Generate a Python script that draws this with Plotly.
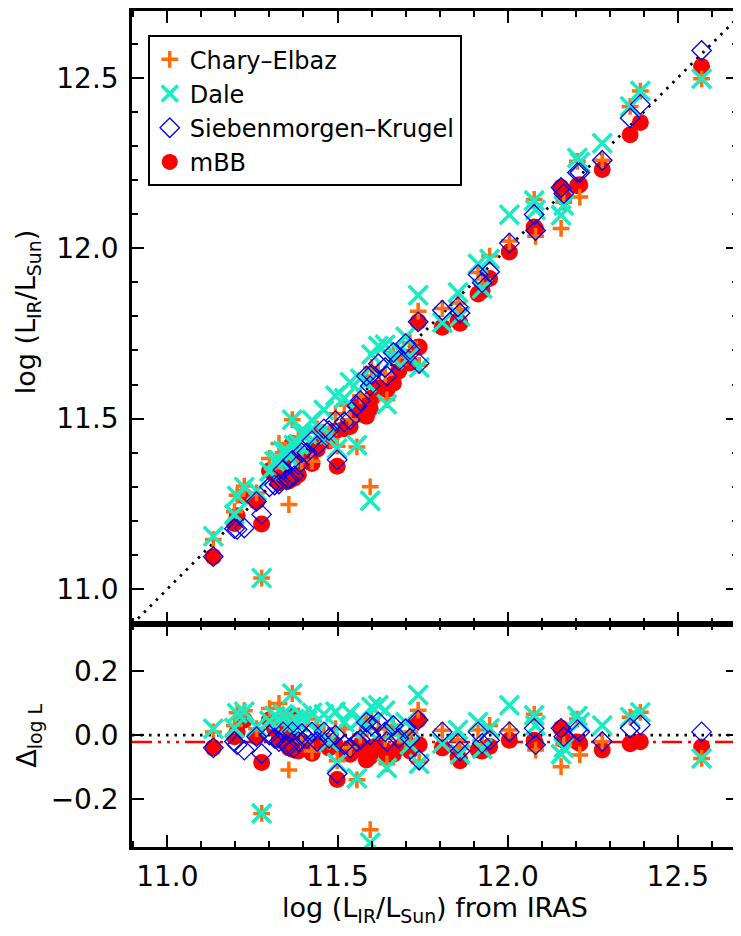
import plotly.graph_objects as go

# IRAS log L_IR and model residuals (model - IRAS) for each galaxy
x_iras = [11.135, 11.197, 11.205, 11.226, 11.262, 11.277, 11.300, 11.315, 11.328, 11.340,
          11.350, 11.357, 11.367, 11.372, 11.385, 11.395, 11.410, 11.425, 11.440, 11.460,
          11.475, 11.494, 11.499, 11.520, 11.537, 11.557, 11.567, 11.585, 11.596, 11.600,
          11.620, 11.640, 11.645, 11.664, 11.680, 11.700, 11.713, 11.737, 11.740, 11.808,
          11.854, 11.860, 11.913, 11.925, 11.947, 12.005, 12.078, 12.082, 12.157, 12.165,
          12.205, 12.212, 12.278, 12.360, 12.390, 12.570]
d_ce = [0.010, 0.030, 0.070, 0.076, 0.020, -0.245, 0.083, 0.040, 0.099, 0.060,
        0.050, -0.109, 0.130, 0.030, 0.060, -0.020, 0.050, -0.050, 0.030, 0.000,
        -0.020, 0.020, -0.080, 0.020, -0.040, -0.140, 0.000, 0.040, -0.296, 0.050,
        0.020, -0.010, -0.090, 0.030, 0.000, -0.020, 0.010, 0.078, -0.084, 0.015,
        -0.015, -0.040, 0.016, -0.030, 0.030, 0.016, 0.065, -0.047, -0.099, -0.030,
        0.050, -0.062, -0.020, 0.056, 0.071, -0.073]
d_dale = [0.020, 0.022, 0.068, 0.073, 0.026, -0.245, 0.045, 0.060, 0.050, 0.065,
          0.055, 0.030, 0.130, 0.050, 0.040, 0.060, 0.045, 0.070, 0.010, 0.065,
          -0.020, 0.073, -0.087, 0.040, 0.070, -0.135, 0.050, 0.020, -0.337, 0.088,
          0.093, 0.077, -0.103, 0.010, 0.020, 0.040, -0.030, 0.125, -0.090, -0.026,
          0.016, -0.060, 0.041, -0.043, 0.021, 0.093, 0.062, 0.030, -0.060, -0.040,
          0.060, 0.040, 0.030, 0.056, 0.071, -0.073]
d_sk = [-0.040, -0.020, -0.030, -0.047, -0.005, -0.058, 0.000, -0.010, -0.020, 0.010,
        -0.030, -0.035, 0.010, -0.040, -0.020, 0.005, -0.010, 0.010, -0.020, 0.010,
        -0.010, 0.000, -0.120, -0.030, -0.040, -0.020, -0.014, 0.040, 0.000, 0.030,
        0.041, 0.010, -0.020, 0.030, -0.010, 0.020, -0.010, 0.047, -0.078, 0.010,
        -0.026, -0.050, 0.010, -0.026, -0.016, 0.010, 0.021, -0.030, 0.021, -0.005,
        0.017, 0.010, -0.020, 0.022, 0.032, 0.010]
d_mbb = [-0.040, -0.005, 0.010, 0.047, -0.005, -0.086, 0.047, 0.020, -0.016, 0.030,
         -0.010, -0.040, 0.060, -0.047, -0.050, -0.020, -0.030, -0.057, -0.030, -0.020,
         -0.040, -0.030, -0.139, -0.050, -0.060, -0.045, -0.030, -0.078, -0.067, -0.040,
         -0.030, -0.050, -0.060, -0.060, -0.040, -0.020, -0.050, 0.047, -0.030, -0.040,
         -0.067, -0.080, -0.047, -0.050, -0.036, -0.016, -0.016, -0.026, 0.021, -0.016,
         -0.022, -0.026, -0.047, -0.027, -0.021, -0.037]
mbb_offset = -0.022

x_range = [10.896, 12.677]
y_top_range = [10.898, 12.696]
y_bot_range = [-0.35, 0.348]
x_ticks = [11.0, 11.5, 12.0, 12.5]
y_top_ticks = [11.0, 11.5, 12.0, 12.5]
y_bot_ticks = [-0.2, 0.0, 0.2]

ORANGE = "rgb(255,110,10)"
CYAN = "rgb(25,235,195)"
BLUE = "rgb(0,0,235)"
RED = "rgb(255,0,0)"
FONT = "DejaVu Sans, Liberation Sans, Arial, sans-serif"

series = [
    ("mBB", d_mbb, dict(symbol="circle", size=17, color=RED, line=dict(width=0)), 4),
    ("Chary–Elbaz", d_ce, dict(symbol="cross-thin", size=12, color=ORANGE,
                                line=dict(width=3.5, color=ORANGE)), 1),
    ("Dale", d_dale, dict(symbol="x-thin", size=19, color=CYAN,
                          line=dict(width=3.5, color=CYAN)), 2),
    ("Siebenmorgen–Krugel", d_sk, dict(symbol="diamond-open", size=15, color=BLUE,
                                         line=dict(width=1.3, color=BLUE)), 3),
]

fig = go.Figure()

# 1:1 line in top panel
fig.add_trace(go.Scatter(x=x_range, y=x_range, mode="lines", xaxis="x2", yaxis="y2",
                         line=dict(color="black", width=2.8, dash="2.5px,6px"),
                         showlegend=False, hoverinfo="skip"))

for name, d, mk, rank in series:
    y_top = [xi + di for xi, di in zip(x_iras, d)]
    fig.add_trace(go.Scatter(x=x_iras, y=y_top, mode="markers", name=name, marker=mk,
                             xaxis="x2", yaxis="y2", legendgroup=name, legendrank=rank,
                             showlegend=True))
    fig.add_trace(go.Scatter(x=x_iras, y=d, mode="markers", name=name, marker=mk,
                             xaxis="x", yaxis="y", legendgroup=name, showlegend=False))

# reference lines in residual panel
fig.add_shape(type="line", xref="x domain", yref="y", x0=0, x1=1, y0=0, y1=0,
              line=dict(color="black", width=2.8, dash="2.5px,6px"), layer="below")
fig.add_shape(type="line", xref="x domain", yref="y", x0=0, x1=1,
              y0=mbb_offset, y1=mbb_offset,
              line=dict(color=RED, width=2.5, dash="20px,6px,3px,6px,3px,6px,3px,6px"),
              layer="below")

split = 0.267
axis_common = dict(showline=True, linecolor="black", linewidth=2.5, mirror="ticks",
                   ticks="inside", ticklen=12, tickwidth=2.2, tickcolor="black",
                   showgrid=False, zeroline=False,
                   tickfont=dict(family=FONT, size=28, color="black"))
minor_ticks = dict(dtick=0.1, tick0=11.0, ticks="inside", ticklen=6,
                   tickwidth=2, tickcolor="black")

fig.update_layout(
    width=733, height=928,
    margin=dict(l=124, r=0, t=0, b=89),
    paper_bgcolor="white", plot_bgcolor="white",
    font=dict(family=FONT, color="black"),
    xaxis=dict(domain=[0, 1], anchor="y", range=x_range, tickvals=x_ticks,
               ticktext=[f"{v:.1f}" for v in x_ticks], ticklabelstandoff=3,
               minor=minor_ticks, **axis_common),
    yaxis=dict(domain=[0, split], anchor="x", range=y_bot_range, tickvals=y_bot_ticks,
               ticktext=["−0.2", "0.0", "0.2"], ticklabelstandoff=5, **axis_common),
    xaxis2=dict(domain=[0, 1], anchor="y2", range=x_range, matches="x",
                showticklabels=False, tickvals=x_ticks,
                minor=minor_ticks, **axis_common),
    yaxis2=dict(domain=[split, 1], anchor="x2", range=y_top_range, tickvals=y_top_ticks,
                ticktext=[f"{v:.1f}" for v in y_top_ticks], ticklabelstandoff=5,
                minor=minor_ticks, **axis_common),
    legend=dict(x=0.026, y=0.971, xanchor="left", yanchor="top",
                bgcolor="white", bordercolor="black", borderwidth=2,
                font=dict(family=FONT, size=24, color="black"),
                tracegroupgap=0, itemsizing="trace"),
    annotations=[
        dict(text="log (L<sub>IR</sub>/L<sub>Sun</sub>)", xref="paper", yref="paper",
             x=-0.171, y=0.640, xanchor="center", yanchor="middle", textangle=-90,
             showarrow=False, font=dict(family=FONT, size=27, color="black")),
        dict(text="Δ<sub>log L</sub>", xref="paper", yref="paper",
             x=-0.171, y=0.1335, xanchor="center", yanchor="middle", textangle=-90,
             showarrow=False, font=dict(family=FONT, size=27, color="black")),
        dict(text="log (L<sub>IR</sub>/L<sub>Sun</sub>) from IRAS", xref="paper", yref="paper",
             x=0.5, y=-0.075, xanchor="center", yanchor="middle",
             showarrow=False, font=dict(family=FONT, size=27, color="black")),
    ],
)

fig.write_html("out.html")
